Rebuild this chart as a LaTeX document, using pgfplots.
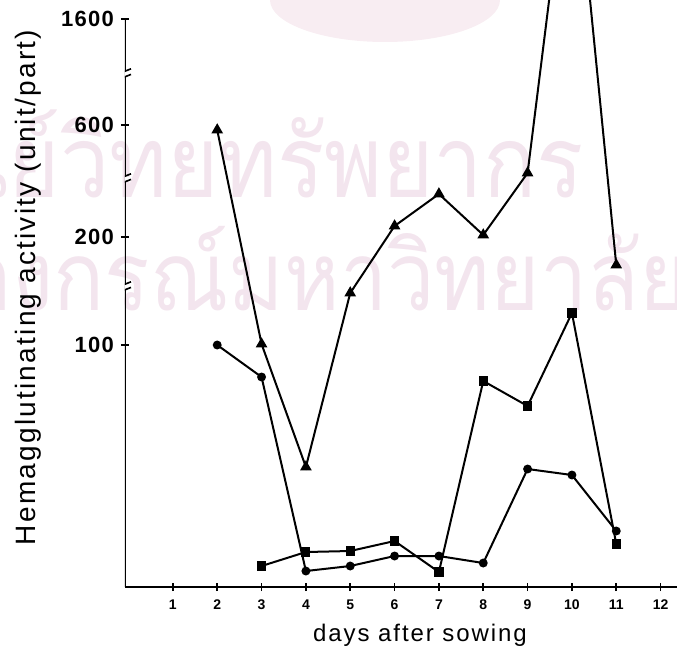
\documentclass[border=0pt]{standalone}
\usepackage{fontspec}
\setmainfont{Liberation Sans}
\newfontfamily\thaifont[Script=Thai]{Loma}
\usepackage{pgfplots}
\pgfplotsset{compat=1.18}
\usetikzlibrary{shapes.geometric}
\definecolor{wm}{RGB}{243,229,238}
\definecolor{wmtop}{RGB}{248,237,242}

% display scale: y in pixel-like units above the x axis (broken axis)
% labels: 100 -> 242, 200 -> 350, 600 -> 462, 1600 -> 568
\begin{document}
\begin{tikzpicture}
% watermark (background decoration), axis box south-west corner is at (0,0)
\node[wmtop, fill=wmtop, ellipse, minimum width=115pt, minimum height=42pt, inner sep=0pt] at (130pt,293.5pt) {};
\node[wm, anchor=base east, xscale=0.88, transform shape, font=\thaifont\fontsize{50}{56}\selectfont] at (232.5pt,195pt) {ศูนย์วิทยทรัพยากร};
\node[wm, anchor=base east, xscale=0.88, transform shape, font=\thaifont\fontsize{48}{54}\selectfont] at (285pt,138.5pt) {จุฬาลงกรณ์มหาวิทยาลัย};
\begin{axis}[
  name=ax,
  scale only axis,
  width=276pt, height=293.5pt,
  xmin=-0.08, xmax=12.37,
  ymin=0, ymax=587,
  axis x line=bottom,
  axis y line=left,
  x axis line style={-, line width=1pt},
  y axis line style={draw=none},
  xtick={1,2,...,12},
  xticklabel style={font=\fontsize{7}{8}\selectfont\bfseries, yshift=-1pt},
  ytick={242,350,462,568},
  yticklabels={100,200,600,1600},
  yticklabel style={font=\fontsize{11}{12}\selectfont\bfseries\addfontfeature{LetterSpace=6}, xshift=0pt},
  /pgf/number format/assume math mode=true,
  tick style={black, line width=0.8pt},
  xtick align=center,
  ytick align=center,
  major tick length=4pt,
  xlabel={\addfontfeature{LetterSpace=8}days after sowing},
  xlabel style={font=\fontsize{12}{14}\selectfont, xshift=9.5pt, yshift=0pt},
  ylabel={\addfontfeature{LetterSpace=8}Hemagglutinating activity (unit/part)},
  ylabel style={font=\fontsize{14}{16}\selectfont, yshift=3pt, xshift=3pt},
  clip=true,
  every axis plot/.append style={black, line width=1pt},
]
% y axis line (only up to 1600 tick) and break marks
\draw[line width=1pt] (axis cs:-0.08,0) -- (axis cs:-0.08,568);
\fill[white] (axis cs:-0.08,300) ++(-3pt,-1.2pt) rectangle ++(6pt,2.4pt);
\draw[line width=0.8pt] (axis cs:-0.08,300) ++(-3pt,-2.6pt) -- ++(6pt,2.4pt);
\draw[line width=0.8pt] (axis cs:-0.08,300) ++(-3pt,0.2pt) -- ++(6pt,2.4pt);
\fill[white] (axis cs:-0.08,408) ++(-3pt,-1.2pt) rectangle ++(6pt,2.4pt);
\draw[line width=0.8pt] (axis cs:-0.08,408) ++(-3pt,-2.6pt) -- ++(6pt,2.4pt);
\draw[line width=0.8pt] (axis cs:-0.08,408) ++(-3pt,0.2pt) -- ++(6pt,2.4pt);
\fill[white] (axis cs:-0.08,513) ++(-3pt,-1.2pt) rectangle ++(6pt,2.4pt);
\draw[line width=0.8pt] (axis cs:-0.08,513) ++(-3pt,-2.6pt) -- ++(6pt,2.4pt);
\draw[line width=0.8pt] (axis cs:-0.08,513) ++(-3pt,0.2pt) -- ++(6pt,2.4pt);

% triangles
\addplot[mark=triangle*, mark size=2.4pt] coordinates {
 (2,457) (3,243) (4,120) (5,294) (6,361) (7,393) (8,352) (9,414) (10,770) (11,322)
};
% circles
\addplot[mark=*, mark size=1.7pt] coordinates {
 (2,242) (3,210) (4,16) (5,21) (6,31) (7,31) (8,24) (9,118) (10,112) (11,56)
};
% squares
\addplot[mark=square*, mark size=1.8pt] coordinates {
 (3,21) (4,35) (5,36) (6,46) (7,15) (8,206) (9,181) (10,274) (11,43)
};
\end{axis}
\pgfresetboundingbox
\path ([xshift=-62.5pt, yshift=-31.5pt]ax.south west) rectangle (ax.north east);
\end{tikzpicture}
\end{document}
